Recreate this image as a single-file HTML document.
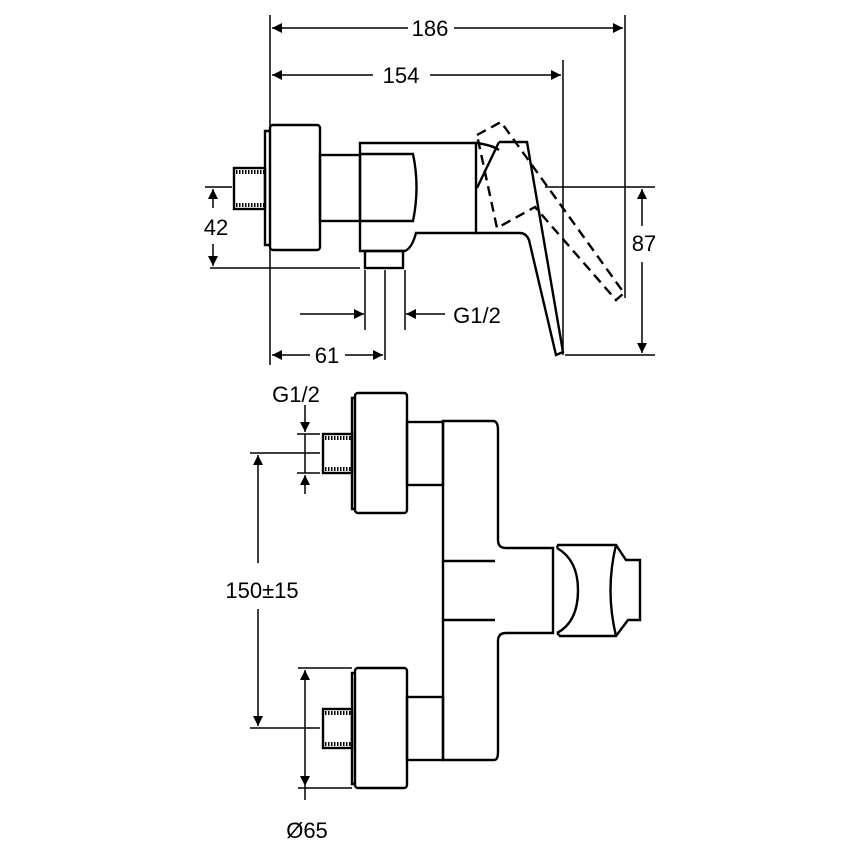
<!DOCTYPE html>
<html><head><meta charset="utf-8"><style>
html,body{margin:0;padding:0;background:#fff}
svg{display:block}
text{font-family:"Liberation Sans",sans-serif;font-size:22px;fill:#000}
</style></head><body>
<svg width="857" height="857" viewBox="0 0 857 857" xmlns="http://www.w3.org/2000/svg">
<defs>
<marker id="a" viewBox="0 0 10 10" refX="10" refY="5" markerWidth="18" markerHeight="10" markerUnits="userSpaceOnUse" orient="auto"><path d="M0,0 L10,5 L0,10 z" fill="#000"/></marker>
</defs>
<g stroke="#000" fill="none" stroke-width="1.5">
<line x1="270" y1="15" x2="270" y2="365"/>
<line x1="625" y1="15" x2="625" y2="298"/>
<line x1="563" y1="60" x2="563" y2="355"/>
<line x1="408" y1="28" x2="272" y2="28" marker-end="url(#a)"/>
<line x1="454" y1="28" x2="623" y2="28" marker-end="url(#a)"/>
<line x1="373" y1="75" x2="272" y2="75" marker-end="url(#a)"/>
<line x1="430" y1="75" x2="561" y2="75" marker-end="url(#a)"/>
<line x1="205" y1="187" x2="232" y2="187"/>
<line x1="210" y1="268" x2="360" y2="268"/>
<line x1="213" y1="208" x2="213" y2="189" marker-end="url(#a)"/>
<line x1="213" y1="244" x2="213" y2="266" marker-end="url(#a)"/>
<line x1="545" y1="187" x2="655" y2="187"/>
<line x1="565" y1="355" x2="655" y2="355"/>
<line x1="642" y1="226" x2="642" y2="189" marker-end="url(#a)"/>
<line x1="642" y1="262" x2="642" y2="353" marker-end="url(#a)"/>
<line x1="365" y1="270" x2="365" y2="330"/>
<line x1="385" y1="270" x2="385" y2="360"/>
<line x1="405" y1="270" x2="405" y2="330"/>
<line x1="300" y1="314" x2="364" y2="314" marker-end="url(#a)"/>
<line x1="445" y1="314" x2="406" y2="314" marker-end="url(#a)"/>
<line x1="310" y1="355" x2="272" y2="355" marker-end="url(#a)"/>
<line x1="345" y1="355" x2="383" y2="355" marker-end="url(#a)"/>
</g>
<g stroke="#000" fill="none" stroke-width="2.4">
<rect x="234" y="168" width="31" height="41"/>
<path d="M236,172 h28 M236,205 h28" stroke-width="4" stroke-dasharray="1.5,1.5"/>
<path d="M270,131 h-5 v114 h5"/>
<rect x="270" y="125" width="50" height="125" rx="3"/>
<rect x="320" y="155" width="40" height="66"/>
<path d="M360,143 H476 V233 H416 Q412,248 405,251 H360 Z"/>
<path d="M360,154 H413 Q420,187 413,221 H360"/>
<rect x="365" y="251" width="38" height="17"/>
<path d="M476,143 Q492,145 499,150"/>
<path d="M499,142 H527 L563,352 L556,355 L529,240 Q526,233 520,233 H476"/>
<path d="M499,142 L477,188"/>
<path d="M477,135 L501,122 L624,293 L616,300 L535,207 L497,228 Z" stroke-dasharray="10,6"/>
<rect x="323" y="434" width="29" height="39"/>
<path d="M325,438 h26 M325,469 h26" stroke-width="4" stroke-dasharray="1.5,1.5"/>
<path d="M356,398 h-4 v111 h4"/>
<rect x="355" y="393" width="52" height="120" rx="3"/>
<rect x="407" y="422" width="36" height="63"/>
<rect x="323" y="709" width="29" height="39"/>
<path d="M325,713 h26 M325,744 h26" stroke-width="4" stroke-dasharray="1.5,1.5"/>
<path d="M356,673 h-4 v111 h4"/>
<rect x="355" y="668" width="52" height="120" rx="3"/>
<rect x="407" y="697" width="36" height="63"/>
<path d="M443,421 H494 Q498,422 498,430 V540 Q498,548 506,548 H553 V633 H506 Q498,633 498,641 V752 Q498,760 494,760 H443 Z"/>
<line x1="443" y1="561" x2="495" y2="561"/>
<line x1="443" y1="620" x2="495" y2="620"/>
<path d="M557,548 L558,545 H616 L626,560 H640 V620 H628 L616,636 H560 L557,633"/>
<path d="M557,548 Q578,560 578,590 Q578,622 557,633"/>
<path d="M616,545 Q605,590 616,636"/>
</g>
<g stroke="#000" fill="none" stroke-width="1.5">
<line x1="297" y1="434" x2="320" y2="434"/>
<line x1="297" y1="473" x2="320" y2="473"/>
<line x1="305" y1="405" x2="305" y2="432" marker-end="url(#a)"/>
<line x1="305" y1="494" x2="305" y2="475" marker-end="url(#a)"/>
<line x1="305" y1="434" x2="305" y2="473"/>
<line x1="250" y1="453" x2="320" y2="453"/>
<line x1="250" y1="728" x2="320" y2="728"/>
<line x1="258" y1="563" x2="258" y2="455" marker-end="url(#a)"/>
<line x1="258" y1="609" x2="258" y2="726" marker-end="url(#a)"/>
<line x1="298" y1="668" x2="352" y2="668"/>
<line x1="298" y1="788" x2="352" y2="788"/>
<line x1="305" y1="728" x2="305" y2="670" marker-end="url(#a)"/>
<line x1="305" y1="728" x2="305" y2="786" marker-end="url(#a)"/>
<line x1="305" y1="786" x2="305" y2="800"/>
</g>
<text x="430" y="36" text-anchor="middle">186</text>
<text x="401" y="83" text-anchor="middle">154</text>
<text x="216" y="235" text-anchor="middle">42</text>
<text x="644" y="251" text-anchor="middle">87</text>
<text x="477" y="323" text-anchor="middle">G1/2</text>
<text x="327" y="363" text-anchor="middle">61</text>
<text x="296" y="402" text-anchor="middle">G1/2</text>
<text x="262" y="598" text-anchor="middle">150±15</text>
<text x="307" y="838" text-anchor="middle">Ø65</text>
</svg>
</body></html>
